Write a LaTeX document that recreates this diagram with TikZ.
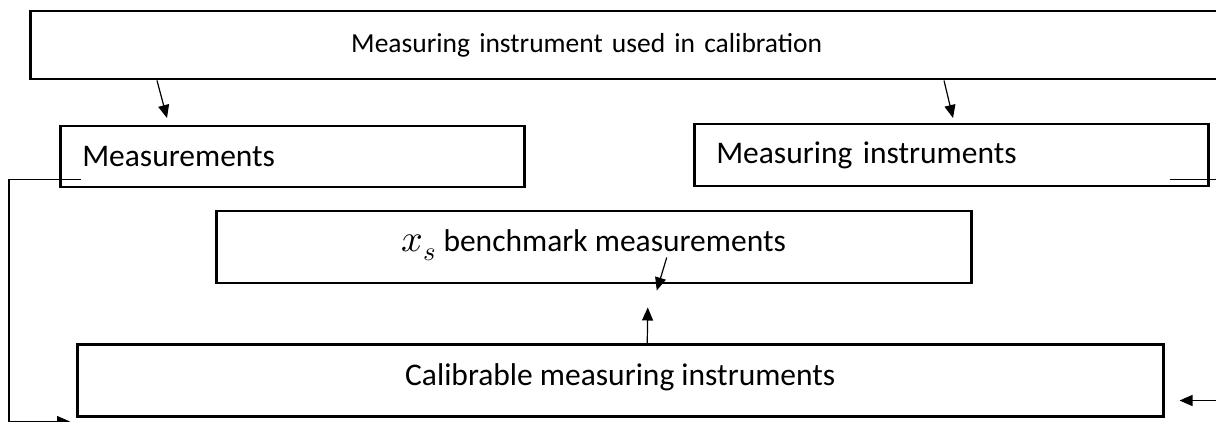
\documentclass[tikz,border=0pt]{standalone}
\usepackage{fontspec}
\usepackage{unicode-math}
\setmainfont{Carlito}
\setmathfont{Latin Modern Math}
\usetikzlibrary{arrows.meta}

\begin{document}
\begin{tikzpicture}[x=1pt, y=-1pt,
    framebox/.style={rectangle, draw=black, line width=2.5pt, inner ysep=0pt, font=\fontsize{31.5}{36}\selectfont},
    arr/.style={-{Triangle[length=13pt,width=11pt]}, line width=1.2pt},
]
    \useasboundingbox (0,0) rectangle (1216,422);
    %Nodes
    \node[framebox, anchor=north west, minimum height=68pt, inner xsep=22pt, text width=1190pt, align=left, font=\fontsize{27.5}{32}\selectfont] (used) at (29,10) {\hspace*{299pt}Measuring instrument used in calibration};
    \node[framebox, anchor=north west, minimum height=61pt, inner xsep=22pt, text width=420pt, align=left] (meas) at (59,125) {Measurements};
    \node[framebox, anchor=north west, minimum height=62pt, inner xsep=22pt, text width=470pt, align=left] (instr) at (693,123) {Measuring instruments};
    \node[framebox, anchor=north west, minimum width=755pt, minimum height=72pt, text depth=14pt] (bench) at (215,210) {{\fontsize{38}{40}\selectfont$x_s$} benchmark measurements};
    \node[framebox, anchor=north west, minimum width=1086pt, minimum height=72pt, text depth=12pt] (calib) at (76,343) {Calibrable measuring instruments};

    %Lines
    \draw[arr] ([xshift=128pt]used.south west) -- ([xshift=108pt,yshift=7pt]meas.north west);
    \draw[arr] ([xshift=915pt]used.south west) -- ([xshift=260pt,yshift=5pt]instr.north west);
    \draw[arr] ([xshift=22pt,yshift=9pt]meas.south west) -- ++(-72,0) |- ([xshift=-6pt,yshift=-4pt]calib.south west);
    \draw[arr] ([xshift=-40pt,yshift=8pt]instr.south east) -- ++(48,0) |- ([xshift=15pt,yshift=17pt]calib.south east);
    \draw[arr] ([xshift=27pt]calib.north) -- ([xshift=54pt,yshift=-23pt]bench.south);
    \draw[arr] ([xshift=73pt,yshift=27pt]bench.south) -- ([xshift=63pt,yshift=-6pt]bench.south);
\end{tikzpicture}
\end{document}
